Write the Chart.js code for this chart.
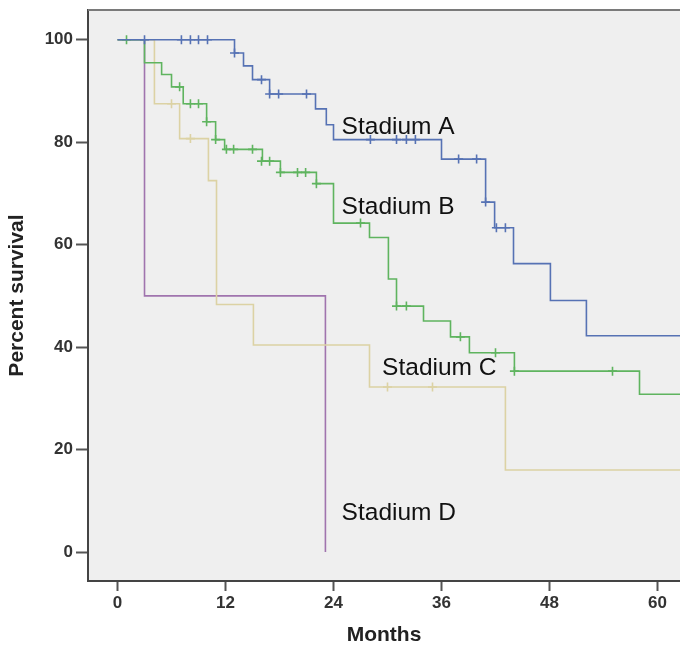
<!DOCTYPE html>
<html>
<head>
<meta charset="utf-8">
<script src="https://cdn.jsdelivr.net/npm/chart.js@4"></script>
<style>
  html, body { margin: 0; padding: 0; background: #ffffff; }
  #wrap { width: 680px; height: 646px; position: relative; }
</style>
</head>
<body>
<div id="wrap"><canvas id="c" width="680" height="646"></canvas></div>
<script>
// ---- data ----
const monthTicks = [0, 12, 24, 36, 48, 60];
const percentTicks = [0, 20, 40, 60, 80, 100];
const groupNames = ['Stadium A', 'Stadium B', 'Stadium C', 'Stadium D'];

// Stadium A
const aTimes = [0, 13.0, 14.0, 15.0, 16.9, 22.0, 23.2, 24.0, 36.0, 40.9, 41.9, 44.0, 48.1, 52.1, 64];
const aSurv  = [100, 97.4, 94.9, 92.2, 89.4, 86.5, 83.4, 80.5, 76.7, 68.3, 63.3, 56.3, 49.1, 42.2, 42.2];
const aCensT = [3.0, 7.1, 8.1, 9.0, 10.0, 13.0, 16.0, 16.9, 17.9, 21.0, 28.1, 31.0, 32.1, 33.1, 37.9, 39.9, 40.9, 42.1, 43.1];
const aCensS = [100, 100, 100, 100, 100, 97.4, 92.2, 89.4, 89.4, 89.4, 80.5, 80.5, 80.5, 80.5, 76.7, 76.7, 68.3, 63.3, 63.3];

// Stadium B
const bTimes = [0, 3.0, 4.9, 6.0, 7.3, 9.9, 10.9, 11.9, 16.1, 18.1, 22.1, 24.0, 28.0, 30.1, 31.0, 34.0, 37.0, 39.1, 44.1, 58.0, 64];
const bSurv  = [100, 95.5, 93.2, 90.8, 87.5, 84.0, 80.5, 78.6, 76.3, 74.1, 71.9, 64.2, 61.4, 53.3, 48.0, 45.1, 42.0, 38.9, 35.3, 30.8, 30.8];
const bCensT = [1.0, 6.9, 8.1, 9.0, 9.9, 10.9, 12.1, 12.9, 15.0, 16.0, 16.9, 18.1, 20.0, 20.9, 22.1, 27.0, 31.0, 32.1, 38.1, 42.0, 44.1, 55.0];
const bCensS = [100, 90.8, 87.5, 87.5, 84.0, 80.5, 78.6, 78.6, 78.6, 76.3, 76.3, 74.1, 74.1, 74.1, 71.9, 64.2, 48.0, 48.0, 42.0, 38.9, 35.3, 35.3];

// Stadium C
const cTimes = [0, 4.1, 6.9, 10.1, 11.0, 15.1, 28.0, 43.1, 64];
const cSurv  = [100, 87.5, 80.7, 72.5, 48.3, 40.4, 32.2, 16.0, 16.0];
const cCensT = [6.0, 8.1, 30.0, 35.0];
const cCensS = [87.5, 80.7, 32.2, 32.2];

// Stadium D
const dTimes = [0, 3.0, 23.1];
const dSurv  = [100, 50, 0];

// ---- styling ----
const colA = '#5672b4', colB = '#5fb45f', colC = '#dcd2a4', colD = '#a074ae';

function pts(t, s) { return t.map((v, i) => ({ x: v, y: s[i] })); }

function lineDs(label, t, s, col) {
  return { type: 'line', label, data: pts(t, s), borderColor: col, backgroundColor: col,
           borderWidth: 1.6, stepped: true, pointRadius: 0, fill: false, tension: 0 };
}
function censDs(label, t, s, col) {
  return { type: 'scatter', label, data: pts(t, s), borderColor: col, backgroundColor: col,
           pointStyle: 'cross', pointRadius: 4.5, borderWidth: 1.6, showLine: false };
}

const labelPos = [
  { text: groupNames[0], x: 24.9, y: 81.6 },
  { text: groupNames[1], x: 24.9, y: 65.9 },
  { text: groupNames[2], x: 29.4, y: 34.6 },
  { text: groupNames[3], x: 24.9, y: 6.3 }
];

const bgPlugin = {
  id: 'bg',
  beforeDraw(chart) {
    const { ctx, chartArea: a } = chart;
    ctx.save();
    ctx.fillStyle = '#ffffff';
    ctx.fillRect(0, 0, chart.width, chart.height);
    ctx.fillStyle = '#efefef';
    ctx.fillRect(a.left, a.top, a.right - a.left, a.bottom - a.top);
    ctx.restore();
  },
  afterDraw(chart) {
    const { ctx, chartArea: a } = chart;
    ctx.save();
    ctx.strokeStyle = '#7a7a7a';
    ctx.lineWidth = 2;
    ctx.beginPath();
    ctx.moveTo(a.left, a.top);
    ctx.lineTo(a.right, a.top);
    ctx.stroke();
    ctx.restore();
  }
};

const textPlugin = {
  id: 'stageLabels',
  afterDatasetsDraw(chart) {
    const { ctx, scales } = chart;
    ctx.save();
    ctx.fillStyle = '#111111';
    ctx.font = '24.5px "Liberation Sans", Arial, sans-serif';
    ctx.textAlign = 'left';
    ctx.textBaseline = 'alphabetic';
    labelPos.forEach(l => {
      ctx.fillText(l.text, scales.x.getPixelForValue(l.x), scales.y.getPixelForValue(l.y));
    });
    ctx.restore();
  }
};

function noPad(s) { s.paddingTop = 0; s.paddingBottom = 0; s.paddingLeft = 0; s.paddingRight = 0; }

const tickFont = { family: '"Liberation Sans", Arial, sans-serif', size: 17, weight: 'bold' };
const titleFont = { family: '"Liberation Sans", Arial, sans-serif', size: 21, weight: 'bold', lineHeight: 1 };

new Chart(document.getElementById('c'), {
  data: {
    datasets: [
      censDs(groupNames[0] + ' censored', aCensT, aCensS, colA),
      lineDs(groupNames[0], aTimes, aSurv, colA),
      censDs(groupNames[1] + ' censored', bCensT, bCensS, colB),
      lineDs(groupNames[1], bTimes, bSurv, colB),
      censDs(groupNames[2] + ' censored', cCensT, cCensS, colC),
      lineDs(groupNames[2], cTimes, cSurv, colC),
      lineDs(groupNames[3], dTimes, dSurv, colD)
    ]
  },
  options: {
    responsive: false,
    animation: false,
    layout: { autoPadding: false, padding: { top: 10, left: 0, right: 0, bottom: 0 } },
    plugins: { legend: { display: false }, tooltip: { enabled: false } },
    scales: {
      x: {
        type: 'linear',
        min: -3.28, max: 62.5,
        afterBuildTicks: s => { s.ticks = monthTicks.map(v => ({ value: v })); },
        afterFit: s => { s.height = 65; noPad(s); },
        grid: { drawOnChartArea: false, drawTicks: true, tickLength: 10, tickColor: '#555', tickWidth: 2 },
        border: { color: '#444', width: 2 },
        ticks: { font: tickFont, color: '#333', padding: 2, maxRotation: 0 },
        title: { display: true, text: 'Months', font: titleFont, color: '#222', padding: { top: 0, bottom: 0 } }
      },
      y: {
        type: 'linear',
        min: -5.66, max: 105.8,
        afterBuildTicks: s => { s.ticks = percentTicks.map(v => ({ value: v })); },
        afterFit: s => { s.width = 88; noPad(s); },
        grid: { drawOnChartArea: false, drawTicks: true, tickLength: 12, tickColor: '#555', tickWidth: 2 },
        border: { color: '#444', width: 2 },
        ticks: { font: tickFont, color: '#333', padding: 3 },
        title: { display: true, text: 'Percent survival', font: titleFont, color: '#222', padding: { top: 7, bottom: 0 } }
      }
    }
  },
  plugins: [bgPlugin, textPlugin]
});
</script>
</body>
</html>
